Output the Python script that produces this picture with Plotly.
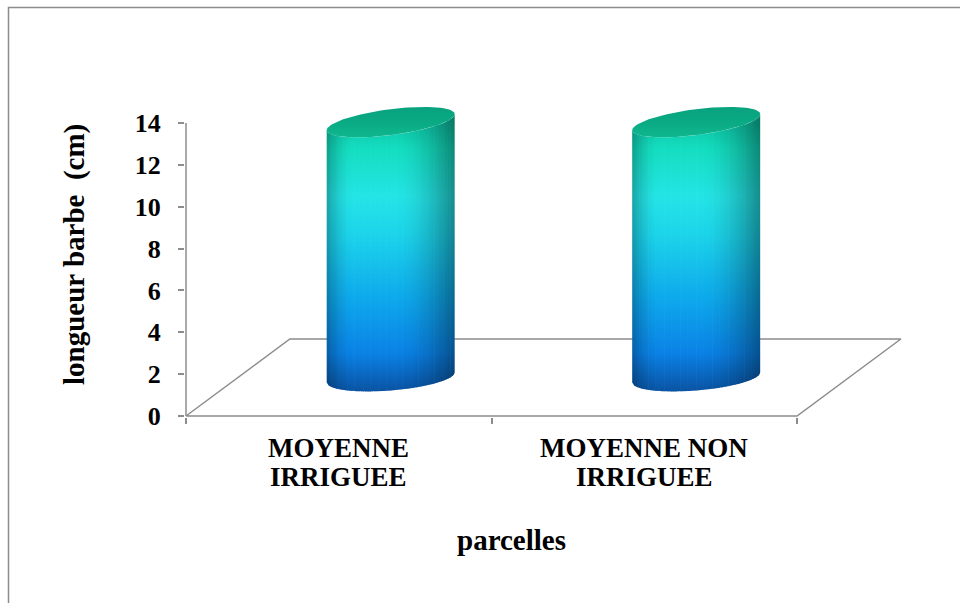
import numpy as np
import plotly.graph_objects as go

# Data
categories = ["MOYENNE<br>IRRIGUEE", "MOYENNE NON<br>IRRIGUEE"]
values = [12.2, 12.2]
y_ticks = [0, 2, 4, 6, 8, 10, 12, 14]
y_title = "longueur barbe \u00a0(cm)"
x_title = "parcelles"

# Pseudo-3D geometry (data units)
DEPTH_X = 0.34      # horizontal shift of the back edge of the floor
DEPTH_Y = 3.68      # vertical shift of the back edge of the floor
RADIUS_X = 0.2095   # cylinder half width
RADIUS_Y = 0.62     # vertical half axis of the end ellipses
TILT_TOP = 0.38
TILT_BOT = 0.24
N_STRIPS = 56

GRID = "#8c8c8c"
FONT = "Times New Roman, Liberation Serif, DejaVu Serif, serif"

# vertical colour ramp of the cylinder body (bottom -> top)
BODY_STOPS = [
    (0.00, (10, 84, 164)),
    (0.14, (10, 130, 230)),
    (0.35, (14, 170, 236)),
    (0.58, (28, 212, 234)),
    (0.72, (36, 228, 230)),
    (0.90, (20, 222, 192)),
    (1.00, (12, 196, 164)),
]


def shade(t):
    """Horizontal light profile across the cylinder, t in [-1, 1]."""
    f = 1.0
    if t > 0.1:
        f -= 0.38 * ((t - 0.1) / 0.9) ** 1.7
    if t < -0.6:
        f -= 0.28 * ((-t - 0.6) / 0.4) ** 1.6
    return f


def scale_for(t):
    f = shade(t)
    return [[p, "rgb(%d,%d,%d)" % tuple(int(min(255, c * f)) for c in rgb)]
            for p, rgb in BODY_STOPS]


fig = go.Figure()

# floor of the 3D plot
x0, x1 = -0.5, len(categories) - 0.5
fig.add_trace(go.Scatter(
    x=[x0, x1, x1 + DEPTH_X, x0 + DEPTH_X, x0],
    y=[0, 0, DEPTH_Y, DEPTH_Y, 0],
    mode="lines", line=dict(color=GRID, width=1.5),
    xaxis="x2", yaxis="y", hoverinfo="skip", showlegend=False))

# vertical axis line (0 .. 14)
fig.add_trace(go.Scatter(
    x=[x0, x0], y=[0, max(y_ticks)],
    mode="lines", line=dict(color=GRID, width=1.5),
    xaxis="x2", yaxis="y", hoverinfo="skip", showlegend=False))

edges = np.linspace(-1, 1, N_STRIPS + 1)
for i, v in enumerate(values):
    xc = i + DEPTH_X / 2
    yb = DEPTH_Y / 2
    yt = yb + v
    # body drawn as thin vertical strips, each with its own vertical gradient
    for k in range(N_STRIPS):
        ta = edges[k]
        tb = min(1.0, edges[k + 1] + 0.6 / N_STRIPS)
        ts = np.linspace(ta, tb, 4)
        low = yb + TILT_BOT * ts - RADIUS_Y * np.sqrt(np.clip(1 - ts ** 2, 0, 1))
        high = yt + TILT_TOP * ts - RADIUS_Y * np.sqrt(np.clip(1 - ts ** 2, 0, 1))
        xs = xc + RADIUS_X * ts
        fig.add_trace(go.Scatter(
            x=np.concatenate([xs, xs[::-1]]),
            y=np.concatenate([low, high[::-1]]),
            mode="lines", line=dict(width=0), fill="toself",
            fillgradient=dict(type="vertical", colorscale=scale_for((ta + tb) / 2),
                              start=yb - RADIUS_Y, stop=yt),
            xaxis="x2", yaxis="y", hoverinfo="skip", showlegend=False))
    # top face
    th = np.linspace(0, 2 * np.pi, 121)
    ct = np.cos(th)
    fig.add_trace(go.Scatter(
        x=xc + RADIUS_X * ct,
        y=yt + TILT_TOP * ct + RADIUS_Y * np.sin(th),
        mode="lines", line=dict(width=0), fill="toself",
        fillgradient=dict(type="vertical",
                          colorscale=[[0, "rgb(16,186,146)"], [0.5, "rgb(10,170,132)"],
                                      [1, "rgb(8,160,124)"]],
                          start=yt - RADIUS_Y - 0.3, stop=yt + RADIUS_Y + 0.3),
        xaxis="x2", yaxis="y", hoverinfo="skip", showlegend=False))

# category axis carrying the boundary ticks
fig.add_trace(go.Scatter(x=categories, y=[None, None], xaxis="x", yaxis="y",
                         mode="markers", showlegend=False, hoverinfo="skip"))

L, R, T, B = 185, 50, 95, 186
W, H = 960 - L - R, 603 - T - B
xr = [-0.5 - 1 / 305.5, -0.5 - 1 / 305.5 + W / 305.5]
yr = [-1 / 20.93, (416 - T) / 20.93]


def py(pixel_y):
    return (417 - pixel_y) / H


annotations = []
# category labels, one annotation per text line
for i, label in enumerate(categories):
    for j, line in enumerate(label.split("<br>")):
        annotations.append(dict(
            text=line, xref="x2", yref="paper", x=i, y=py(448 + 29 * j),
            showarrow=False, xanchor="center", yanchor="middle",
            font=dict(family=FONT, size=27, color="black", weight="bold")))

annotations += [
    dict(text=y_title, textangle=-90, xref="paper", yref="paper",
         x=(74 - L) / W, y=py(255), showarrow=False,
         xanchor="center", yanchor="middle",
         font=dict(family=FONT, size=29, color="black", weight="bold")),
    dict(text=x_title, xref="paper", yref="paper",
         x=(511 - L) / W, y=py(540), showarrow=False,
         xanchor="center", yanchor="middle",
         font=dict(family=FONT, size=29, color="black", weight="bold")),
]

fig.update_layout(
    width=960, height=603,
    margin=dict(l=L, r=R, t=T, b=B, pad=0),
    paper_bgcolor="white", plot_bgcolor="white",
    showlegend=False,
    xaxis=dict(type="category", range=xr, tickson="boundaries", ticks="outside",
               ticklen=6, tickcolor=GRID, tickwidth=1.5, showgrid=False,
               zeroline=False, showline=False, showticklabels=False),
    xaxis2=dict(range=xr, overlaying="x", visible=False, showgrid=False, zeroline=False),
    yaxis=dict(range=yr, tickvals=y_ticks, ticks="outside", ticklen=6,
               tickcolor=GRID, tickwidth=1.5, showgrid=False, zeroline=False,
               showline=False,
               tickfont=dict(family=FONT, size=26, color="black", weight="bold"),
               ticklabelstandoff=12),
    annotations=annotations,
    shapes=[
        dict(type="rect", xref="paper", yref="paper", layer="below",
             x0=(8.5 - L) / W, x1=(990 - L) / W, y0=(417 - 640) / H, y1=(417 - 7.5) / H,
             line=dict(color=GRID, width=1.5), fillcolor="rgba(0,0,0,0)"),
    ],
)

fig.write_html("out.html")
